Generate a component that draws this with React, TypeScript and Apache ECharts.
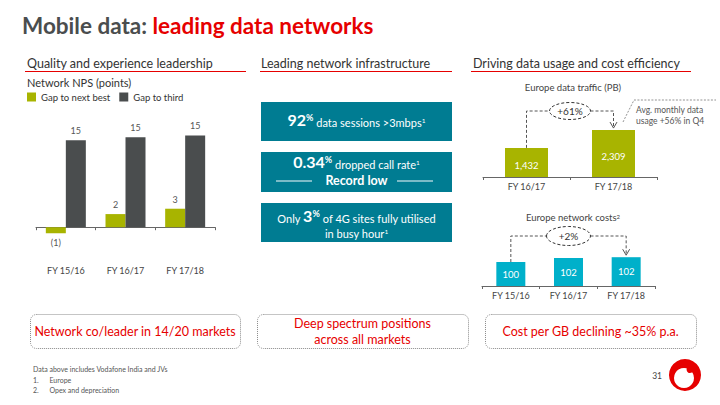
import React, { useEffect, useRef } from "react";
import * as echarts from "echarts";

const FONT = "Lato, 'Noto Sans', sans-serif";
const RED = "#e60000";
const GREEN = "#a8b400";
const DARK = "#4a4d4e";
const TEAL = "#007c92";
const LIGHT_TEAL = "#00b0ca";

const npsCategories = ["FY 15/16", "FY 16/17", "FY 17/18"];
const npsSeriesNames = ["Gap to next best", "Gap to third"];
const gapToNextBest = [-1, 2.2, 3.1];
const gapToThird = [14.6, 15.1, 15.4];

const trafficCategories = ["FY 16/17", "FY 17/18"];
const trafficValues = [1432, 2309];
const trafficGrowth = "+61%";

const costCategories = ["FY 15/16", "FY 16/17", "FY 17/18"];
const costValues = [100, 102, 102.4];
const costGrowth = "+2%";

const sectionHeaders = [
  "Quality and experience leadership",
  "Leading network infrastructure",
  "Driving data usage and cost efficiency",
];
const bottomMessages = [
  "Network co/leader in 14/20 markets",
  "Deep spectrum positions\nacross all markets",
  "Cost per GB declining ~35% p.a.",
];
const footnotes = [
  "Data above includes Vodafone India and JVs",
  "1.      Europe",
  "2.      Opex and depreciation",
];

function T(x: number, y: number, text: string, o: any = {}) {
  const align = o.align || "left";
  const va = o.va || "middle";
  return {
    type: "text",
    x,
    y,
    z: o.z || 10,
    style: {
      text,
      fontFamily: FONT,
      fontSize: o.size || 10,
      fontWeight: o.weight || "normal",
      fill: o.color || "#333",
      align,
      textAlign: align,
      verticalAlign: va,
      textVerticalAlign: va,
      lineHeight: o.lineHeight,
      rich: o.rich,
    },
  };
}

// all tokens bottom-anchored in an 18px line; superscripts get a taller box so they sit higher
const boxRich = {
  b: { fontFamily: FONT, fontSize: 16, fontWeight: "bold", fill: "#fff", verticalAlign: "bottom", lineHeight: 18 },
  bp: { fontFamily: FONT, fontSize: 9, fontWeight: "bold", fill: "#fff", verticalAlign: "bottom", lineHeight: 18, height: 21 },
  t: { fontFamily: FONT, fontSize: 11, fill: "#fff", verticalAlign: "bottom", lineHeight: 18 },
  s: { fontFamily: FONT, fontSize: 6.5, fill: "#fff", verticalAlign: "bottom", lineHeight: 18, height: 14.5 },
};

const option: any = {
  animation: false,
  backgroundColor: "#fff",
  textStyle: { fontFamily: FONT },
  legend: {
    left: 27,
    top: 92,
    padding: 0,
    itemWidth: 9,
    itemHeight: 9,
    itemGap: 9,
    icon: "rect",
    selectedMode: false,
    data: npsSeriesNames,
    textStyle: { fontSize: 9.5, color: "#333", fontFamily: FONT },
  },
  grid: [
    { left: 36, top: 108, width: 179, height: 149 },
    { left: 483, top: 116, width: 174, height: 61 },
    { left: 482, top: 242, width: 173, height: 44 },
  ],
  xAxis: [
    {
      gridIndex: 0,
      type: "category",
      data: npsCategories,
      axisLine: { onZero: true, lineStyle: { color: "#666" } },
      axisTick: { show: true, length: 3, lineStyle: { color: "#666" } },
      axisLabel: { margin: 9, fontSize: 9, color: "#444", fontFamily: FONT },
    },
    {
      gridIndex: 1,
      type: "category",
      data: trafficCategories,
      axisLine: { lineStyle: { color: "#666" } },
      axisTick: { show: true, length: 3, lineStyle: { color: "#666" } },
      axisLabel: { margin: 5, fontSize: 9, color: "#444", fontFamily: FONT },
    },
    {
      gridIndex: 2,
      type: "category",
      data: costCategories,
      axisLine: { lineStyle: { color: "#666" } },
      axisTick: { show: true, length: 3, lineStyle: { color: "#666" } },
      axisLabel: { margin: 5, fontSize: 9, color: "#444", fontFamily: FONT },
    },
  ],
  yAxis: [
    { gridIndex: 0, type: "value", min: -5, max: 20, show: false, splitLine: { show: false } },
    { gridIndex: 1, type: "value", min: 0, max: 3000, show: false, splitLine: { show: false } },
    { gridIndex: 2, type: "value", min: 88, max: 110, show: false, splitLine: { show: false } },
  ],
  series: [
    {
      name: npsSeriesNames[0],
      type: "bar",
      xAxisIndex: 0,
      yAxisIndex: 0,
      barWidth: 20,
      barGap: "0%",
      itemStyle: { color: GREEN },
      data: gapToNextBest.map((v) => ({
        value: v,
        label: { position: v < 0 ? "bottom" : "top" },
      })),
      label: {
        show: true,
        distance: 5,
        fontSize: 9,
        color: "#555",
        fontFamily: FONT,
        formatter: (p: any) => (p.value < 0 ? `(${Math.abs(Math.round(p.value))})` : `${Math.round(p.value)}`),
      },
    },
    {
      name: npsSeriesNames[1],
      type: "bar",
      xAxisIndex: 0,
      yAxisIndex: 0,
      barWidth: 20,
      barGap: "0%",
      itemStyle: { color: DARK },
      data: gapToThird,
      label: {
        show: true,
        position: "top",
        distance: 5,
        fontSize: 9,
        color: "#555",
        fontFamily: FONT,
        formatter: (p: any) => `${Math.round(p.value)}`,
      },
    },
    {
      name: "Europe data traffic (PB)",
      type: "bar",
      xAxisIndex: 1,
      yAxisIndex: 1,
      barWidth: 43,
      itemStyle: { color: GREEN },
      data: trafficValues,
      label: {
        show: true,
        position: "inside",
        offset: [0, 3],
        fontSize: 9.5,
        color: "#fff",
        fontFamily: FONT,
        formatter: (p: any) => Number(p.value).toLocaleString("en-US"),
      },
    },
    {
      name: "Europe network costs",
      type: "bar",
      xAxisIndex: 2,
      yAxisIndex: 2,
      barWidth: 29,
      itemStyle: { color: LIGHT_TEAL },
      data: costValues,
      label: {
        show: true,
        position: "inside",
        fontSize: 9.5,
        color: "#fff",
        fontFamily: FONT,
        formatter: (p: any) => `${Math.round(p.value)}`,
      },
    },
  ],
};

function connector(a: number[], b: number[], level: number, rx: number, ry: number, label: string) {
  const cx = (a[0] + b[0]) / 2;
  const dash = { stroke: "#555", lineWidth: 1, lineDash: [3, 2], fill: null };
  return [
    { type: "polyline", shape: { points: [[a[0], a[1]], [a[0], level], [cx - rx, level]] }, style: dash, z: 5 },
    { type: "polyline", shape: { points: [[cx + rx, level], [b[0], level], [b[0], b[1] - 2]] }, style: dash, z: 5 },
    {
      type: "polyline",
      shape: { points: [[b[0] - 3.5, b[1] - 8], [b[0], b[1] - 2], [b[0] + 3.5, b[1] - 8]] },
      style: { stroke: "#555", lineWidth: 1, fill: null },
      z: 5,
    },
    {
      type: "ellipse",
      shape: { cx, cy: level, rx, ry },
      style: { fill: "#fff", stroke: "#333", lineWidth: 1, lineDash: [3, 2] },
      z: 6,
    },
    T(cx, level, label, { align: "center", size: 10, color: "#333", z: 7 }),
  ];
}

function buildGraphics(chart: any) {
  const g: any[] = [];
  g.push(
    T(22, 25, "{a|Mobile data: }{b|leading data networks}", {
      rich: {
        a: { fontFamily: FONT, fontSize: 22.5, fontWeight: "bold", fill: DARK },
        b: { fontFamily: FONT, fontSize: 22.5, fontWeight: "bold", fill: RED },
      },
    })
  );
  const hx = [27, 261, 473];
  const ux = [[25, 246], [260, 452], [471, 691]];
  sectionHeaders.forEach((h, i) => {
    g.push(T(hx[i], 63, h, { size: 12.5, color: "#333" }));
    g.push({
      type: "line",
      shape: { x1: ux[i][0], y1: 71.5, x2: ux[i][1], y2: 71.5 },
      style: { stroke: RED, lineWidth: 1 },
    });
  });
  g.push(T(27, 82, "Network NPS (points)", { size: 11, color: "#333" }));

  const boxes = [
    [102, 141],
    [152, 192],
    [203, 242],
  ];
  boxes.forEach(([y1, y2]) =>
    g.push({
      type: "rect",
      shape: { x: 261, y: y1, width: 191, height: y2 - y1 },
      style: { fill: TEAL },
      z: 2,
    })
  );
  const mx = 356.5;
  g.push(T(mx, 118.5, "{b|92}{bp|%}{t| data sessions >3mbps}{s|1}", { align: "center", rich: boxRich }));
  g.push(T(mx, 160.5, "{b|0.34}{bp|%}{t| dropped call rate}{s|1}", { align: "center", rich: boxRich }));
  g.push(T(mx, 180, "Record low", { align: "center", size: 12.5, weight: "bold", color: "#fff" }));
  g.push({ type: "line", shape: { x1: 276, y1: 181, x2: 312, y2: 181 }, style: { stroke: "rgba(255,255,255,0.65)", lineWidth: 1.5 }, z: 5 });
  g.push({ type: "line", shape: { x1: 397, y1: 181, x2: 433, y2: 181 }, style: { stroke: "rgba(255,255,255,0.65)", lineWidth: 1.5 }, z: 5 });
  g.push(T(mx, 214.5, "{t|Only }{b|3}{bp|%}{t| of 4G sites fully utilised}", { align: "center", rich: boxRich }));
  g.push(T(mx, 229.5, "{t|in busy hour}{s|1}", { align: "center", rich: boxRich }));

  g.push(T(573, 87, "Europe data traffic (PB)", { align: "center", size: 9.5, color: "#444" }));
  g.push(
    T(573, 216.5, "{n|Europe network costs}{s|2}", {
      align: "center",
      rich: {
        n: { fontFamily: FONT, fontSize: 9.5, fill: "#444", verticalAlign: "bottom", lineHeight: 12 },
        s: { fontFamily: FONT, fontSize: 6, fill: "#444", verticalAlign: "bottom", lineHeight: 12, height: 12 },
      },
    })
  );

  const t1 = chart.convertToPixel({ xAxisIndex: 1, yAxisIndex: 1 }, [0, trafficValues[0]]);
  const t2 = chart.convertToPixel({ xAxisIndex: 1, yAxisIndex: 1 }, [1, trafficValues[1]]);
  g.push(...connector(t1, t2, 111, 20.5, 8.5, trafficGrowth));
  const c1 = chart.convertToPixel({ xAxisIndex: 2, yAxisIndex: 2 }, [0, costValues[0]]);
  const c3 = chart.convertToPixel({ xAxisIndex: 2, yAxisIndex: 2 }, [2, costValues[2]]);
  g.push(...connector(c1, c3, 236, 22, 9.5, costGrowth));

  g.push({
    type: "polyline",
    shape: { points: [[623, 122], [634, 100], [716, 100]] },
    style: { stroke: "#777", lineWidth: 0.8, lineDash: [2, 1.5], fill: null },
  });
  g.push(T(636, 109.5, "Avg. monthly data", { size: 8.5, color: "#555" }));
  g.push(T(636, 120.5, "usage +56% in Q4", { size: 8.5, color: "#555" }));

  const bx = [
    [30, 240],
    [257, 468],
    [485, 696],
  ];
  bx.forEach(([x1, x2], i) => {
    g.push({
      type: "rect",
      shape: { x: x1 + 0.5, y: 314.5, width: x2 - x1, height: 34, r: 6 },
      style: { fill: null, stroke: "#8a8a8a", lineWidth: 1, lineDash: [1, 1] },
    });
    g.push(
      T((x1 + x2) / 2, 331.5, bottomMessages[i], {
        align: "center",
        size: 12.5,
        color: RED,
        lineHeight: 15.5,
      })
    );
  });

  footnotes.forEach((f, i) => g.push(T(33, 369 + i * 10.5, f, { size: 7, color: "#555" })));
  g.push(T(662, 376, "31", { align: "right", size: 8.5, color: "#444" }));

  g.push({ type: "circle", shape: { cx: 685, cy: 375, r: 16 }, style: { fill: RED } });
  g.push({ type: "circle", shape: { cx: 684, cy: 378, r: 10 }, style: { fill: "#fff" } });
  g.push({ type: "ellipse", shape: { cx: 690.5, cy: 368, rx: 4, ry: 5.5 }, rotation: -0.5, originX: 690.5, originY: 368, style: { fill: RED } });
  return g;
}

export default function App() {
  const ref = useRef<HTMLDivElement>(null);
  useEffect(() => {
    const chart = echarts.init(ref.current!, undefined, { renderer: "svg", width: 720, height: 405 });
    chart.setOption(option);
    chart.setOption({ graphic: buildGraphics(chart) });
    return () => chart.dispose();
  }, []);
  return (
    <div
      ref={ref}
      style={{ position: "absolute", left: 0, top: 0, width: 720, height: 405, background: "#fff" }}
    />
  );
}
